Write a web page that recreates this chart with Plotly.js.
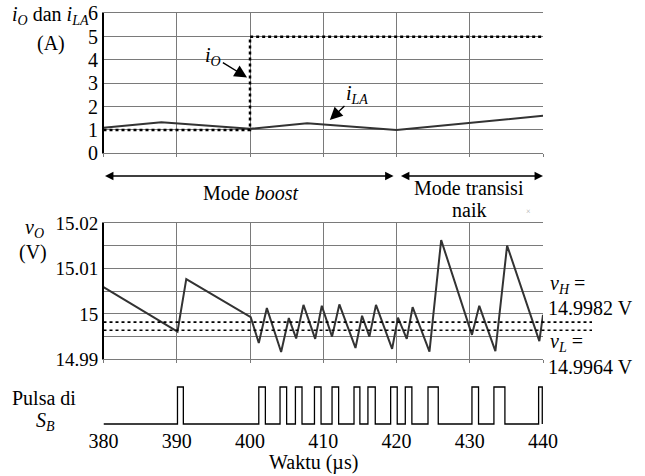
<!DOCTYPE html>
<html><head><meta charset="utf-8">
<script src="https://cdn.plot.ly/plotly-3.0.1.min.js"></script>
<style>html,body{margin:0;padding:0;background:#fff}#chart{width:645px;height:476px}</style>
</head><body><div id="chart"></div>
<script>
// ---- data ----
const tTicks = [380, 390, 400, 410, 420, 430, 440];
const ioT = [380, 400, 440];
const ioV = [1.0, 5.0, 5.0];
const ilaT = [380, 387.9, 400, 407.8, 420, 440];
const ilaV = [1.10, 1.33, 1.05, 1.29, 1.00, 1.61];
const voT = [380, 390.1, 391.3, 400.1, 401.2, 402.3, 404.25, 405.3, 406.3, 407.3, 408.9, 409.8, 411.2, 412.2, 414.4, 415.3, 416.3, 417.2, 419.4, 420.2, 421.4, 422.2, 424.5, 426.1, 430.3, 431.3, 433.5, 435.1, 439.5, 440];
const voV = [15.0059, 14.9961, 15.0077, 14.9993, 14.9936, 15.0013, 14.9916, 14.9991, 14.9946, 15.0020, 14.9945, 15.0018, 14.9950, 15.0021, 14.9925, 14.9996, 14.9950, 15.0020, 14.9923, 14.9992, 14.9945, 15.0015, 14.9917, 15.0163, 14.9954, 15.0018, 14.9918, 15.0151, 14.9940, 14.9998];
const pulseOn  = [390.1, 401.2, 404.1, 406.2, 408.8, 411.2, 414.2, 416.1, 419.2, 421.2, 424.3, 430.3, 433.3, 439.4];
const pulseOff = [390.9, 402.1, 405.0, 407.1, 409.7, 412.1, 415.0, 417.1, 420.1, 422.1, 425.7, 431.2, 434.8, 439.9];
const vH = 14.9982, vL = 14.9964;
const vLineEnd = 446.7;

// ---- layout helpers (pixel -> paper) ----
const W = 645, H = 476;
const px = p => p / W, py = p => 1 - p / H;
const XL = 103.5, XR = 543;
const FONT = '"Liberation Serif", "DejaVu Serif", serif';
const GRID = '#7a7a7a';

// pulse step series
const pT = [380], pV = [0];
for (let i = 0; i < pulseOn.length; i++) { pT.push(pulseOn[i], pulseOff[i]); pV.push(1, 0); }

const traces = [
  {x: ilaT, y: ilaV, xaxis: 'x', yaxis: 'y', mode: 'lines', line: {color: '#333', width: 2}},
  {x: ioT, y: ioV, xaxis: 'x', yaxis: 'y', mode: 'lines', line: {color: '#000', width: 2.5, dash: 'dot', shape: 'hv'}},
  {x: voT, y: voV, xaxis: 'x2', yaxis: 'y2', mode: 'lines', line: {color: '#333', width: 2}},
  {x: [380, vLineEnd], y: [vH, vH], xaxis: 'x4', yaxis: 'y4', mode: 'lines', line: {color: '#000', width: 1.6, dash: 'dot'}},
  {x: [380, vLineEnd], y: [vL, vL], xaxis: 'x4', yaxis: 'y4', mode: 'lines', line: {color: '#000', width: 1.6, dash: 'dot'}},
  {x: pT, y: pV, xaxis: 'x3', yaxis: 'y3', mode: 'lines', line: {color: '#000', width: 1.3, shape: 'hv'}}
];

const xBase = {range: [380, 440], tickvals: tTicks, showticklabels: false, showgrid: true, gridcolor: GRID, gridwidth: 1,
  showline: true, linecolor: GRID, linewidth: 1, mirror: true, ticks: 'outside', ticklen: 3, tickcolor: GRID, zeroline: false, fixedrange: true};
const yTop = [py(153.3), py(13.3)];
const yMid = [py(359.3), py(223.3)];
const vRange = [14.99, 15.02];
const x3Bottom = 427;

const tf = {family: FONT, size: 19, color: '#000'};
const lf = {family: FONT, size: 20, color: '#000'};

const layout = {
  width: W, height: H, margin: {l: 0, r: 0, t: 0, b: 0}, showlegend: false,
  font: {family: FONT, size: 20, color: '#000'},
  paper_bgcolor: '#fff', plot_bgcolor: 'rgba(0,0,0,0)',
  xaxis: Object.assign({}, xBase, {domain: [px(XL), px(XR)], anchor: 'y'}),
  yaxis: {domain: yTop, range: [0, 6], dtick: 1, showgrid: true, gridcolor: GRID, showline: true, linecolor: '#000', linewidth: 1.5,
    ticks: '', tickfont: {family: FONT, size: 20, color: '#000'}, zeroline: false, anchor: 'x', fixedrange: true},
  xaxis2: Object.assign({}, xBase, {domain: [px(XL), px(XR)], anchor: 'y2'}),
  yaxis2: {domain: yMid, range: vRange, dtick: 0.01, tick0: 14.99, showgrid: true, gridcolor: GRID, showline: true, linecolor: '#000', linewidth: 1.5,
    minor: {dtick: 0.005, showgrid: true, gridcolor: GRID, gridwidth: 1}, ticks: '', tickfont: tf, zeroline: false, anchor: 'x2', fixedrange: true},
  xaxis3: {domain: [px(XL), px(XR)], range: [380, 440], tickvals: tTicks, showgrid: false, showline: false, zeroline: false,
    ticks: '', tickfont: {family: FONT, size: 20, color: '#000'}, anchor: 'y3', fixedrange: true},
  yaxis3: {domain: [py(x3Bottom), py(380)], range: [-(x3Bottom - 424) / 37, 1 + (387 - 380) / 37], visible: false, anchor: 'x3', fixedrange: true},
  xaxis4: {domain: [px(XL), px(592)], range: [380, vLineEnd], visible: false, anchor: 'y4', fixedrange: true},
  yaxis4: {domain: yMid, range: vRange, visible: false, anchor: 'x4', fixedrange: true},
  annotations: [
    {xref: 'paper', yref: 'paper', x: px(50), y: py(16), text: '<i>i</i><sub><i>O</i></sub> dan <i>i</i><sub><i>LA</i></sub>', showarrow: false, font: lf, xanchor: 'center', yanchor: 'middle'},
    {xref: 'paper', yref: 'paper', x: px(51), y: py(43), text: '(A)', showarrow: false, font: lf, xanchor: 'center', yanchor: 'middle'},
    {xref: 'paper', yref: 'paper', x: px(34), y: py(228), text: '<i>v</i><sub><i>O</i></sub>', showarrow: false, font: lf, xanchor: 'center', yanchor: 'middle'},
    {xref: 'paper', yref: 'paper', x: px(33), y: py(252), text: '(V)', showarrow: false, font: lf, xanchor: 'center', yanchor: 'middle'},
    {xref: 'paper', yref: 'paper', x: px(44), y: py(398), text: 'Pulsa di', showarrow: false, font: lf, xanchor: 'center', yanchor: 'middle'},
    {xref: 'paper', yref: 'paper', x: px(45), y: py(421), text: '<i>S</i><sub><i>B</i></sub>', showarrow: false, font: lf, xanchor: 'center', yanchor: 'middle'},
    {xref: 'paper', yref: 'paper', x: px(313), y: py(462), text: 'Waktu (µs)', showarrow: false, font: lf, xanchor: 'center', yanchor: 'middle'},
    {xref: 'paper', yref: 'paper', x: px(250), y: py(193), text: 'Mode <i>boost</i>', showarrow: false, font: lf, xanchor: 'center', yanchor: 'middle'},
    {xref: 'paper', yref: 'paper', x: px(469), y: py(188), text: 'Mode transisi', showarrow: false, font: lf, xanchor: 'center', yanchor: 'middle'},
    {xref: 'paper', yref: 'paper', x: px(469), y: py(210), text: 'naik', showarrow: false, font: lf, xanchor: 'center', yanchor: 'middle'},
    {xref: 'paper', yref: 'paper', x: px(533), y: py(211), text: '×', showarrow: false, font: {family: FONT, size: 8, color: '#aaa'}},
    {xref: 'paper', yref: 'paper', x: px(548), y: py(284), text: '<i>v</i><sub><i>H</i></sub> =', showarrow: false, font: lf, xanchor: 'left', yanchor: 'middle'},
    {xref: 'paper', yref: 'paper', x: px(546), y: py(308), text: '14.9982 V', showarrow: false, font: lf, xanchor: 'left', yanchor: 'middle'},
    {xref: 'paper', yref: 'paper', x: px(548), y: py(342), text: '<i>v</i><sub><i>L</i></sub> =', showarrow: false, font: lf, xanchor: 'left', yanchor: 'middle'},
    {xref: 'paper', yref: 'paper', x: px(546), y: py(367), text: '14.9964 V', showarrow: false, font: lf, xanchor: 'left', yanchor: 'middle'},
    // i_O and i_LA pointers
    {xref: 'x', yref: 'y', axref: 'x', ayref: 'y', x: 399.6, y: 3.25, ax: 395.0, ay: 4.13, text: '<i>i</i><sub><i>O</i></sub>', font: lf,
      showarrow: true, arrowhead: 2, arrowsize: 1.8, arrowwidth: 1.4, arrowcolor: '#000'},
    {xref: 'x', yref: 'y', axref: 'x', ayref: 'y', x: 410.9, y: 1.43, ax: 414.6, ay: 2.54, text: '<i>i</i><sub><i>LA</i></sub>', font: lf,
      showarrow: true, arrowhead: 2, arrowsize: 1.8, arrowwidth: 1.4, arrowcolor: '#000'},
    // mode arrows
    {xref: 'x', yref: 'paper', axref: 'x', x: 419.6, y: py(176), ax: 380, ay: 0, text: '', showarrow: true, arrowhead: 2, startarrowhead: 2,
      arrowside: 'end+start', arrowsize: 1.3, startarrowsize: 1.3, arrowwidth: 1.3, arrowcolor: '#000'},
    {xref: 'x', yref: 'paper', axref: 'x', x: 440, y: py(176), ax: 420.4, ay: 0, text: '', showarrow: true, arrowhead: 2, startarrowhead: 2,
      arrowside: 'end+start', arrowsize: 1.3, startarrowsize: 1.3, arrowwidth: 1.3, arrowcolor: '#000'}
  ]
};

Plotly.newPlot('chart', traces, layout, {displayModeBar: false, staticPlot: true});
</script>
</body></html>
